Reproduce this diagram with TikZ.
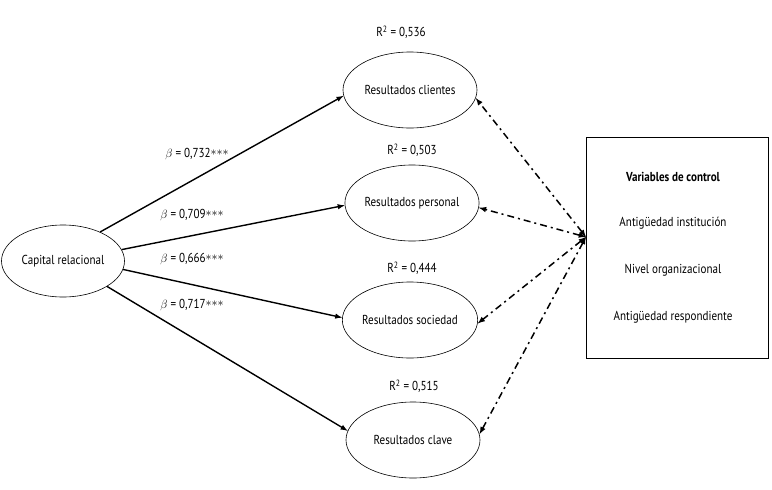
\documentclass[tikz,border=0pt]{standalone}
\usepackage{amsmath}
\usepackage{fontspec}
\setmainfont{PT Sans}[FakeStretch=0.85]
\usetikzlibrary{arrows}
\usetikzlibrary{shapes.geometric}

\newcommand{\sterren}{\raisebox{0.25ex}{${\ast}{\ast}{\ast}$}}

\begin{document}
\begin{tikzpicture}[x=1pt,y=-1pt,
	var/.style={ellipse,draw,line width=0.6pt,minimum width=134pt,minimum height=76pt,inner sep=0pt},
	lbl/.style={inner sep=0pt},
	pijl/.style={-latex,line width=1.4pt},
	ctrl/.style={latex-latex,line width=1.5pt,dash pattern=on 7pt off 4pt on 2pt off 4pt},
	font=\fontsize{13}{15}\selectfont]
		\useasboundingbox (0,0) rectangle (772,490);
		\node[var,minimum width=123pt,minimum height=72pt] (cap) at (63,261) {Capital relacional};
		\node[var] (cli) at (410,90) {Resultados clientes};
		\node[var] (per) at (412,203) {Resultados personal};
		\node[var] (soc) at (410,320) {Resultados sociedad};
		\node[var] (clv) at (413,440) {Resultados clave};
		\node[lbl] (r1) at (401,32) {R\textsuperscript{2} = 0,536};
		\node[lbl] (r2) at (412,150) {R\textsuperscript{2} = 0,503};
		\node[lbl] (r3) at (412,268) {R\textsuperscript{2} = 0,444};
		\node[lbl] (r4) at (414,386) {R\textsuperscript{2} = 0,515};
		\node[lbl] (b1) at (197,154) {$\beta$ = 0,732\sterren};
		\node[lbl] (b2) at (192,215) {$\beta$ = 0,709\sterren};
		\node[lbl] (b3) at (192,259) {$\beta$ = 0,666\sterren};
		\node[lbl] (b4) at (192,305) {$\beta$ = 0,717\sterren};
		\draw[pijl] (cap.38) -- (cli.185);
		\draw[pijl] (cap.11) -- (per.182);
		\draw[pijl] (cap.-8) -- (soc.178);
		\draw[pijl] (cap.-30) -- (clv.172);
		\node[draw,line width=0.6pt,minimum width=182pt,minimum height=221pt] (box) at (677,247.5) {};
		\node[lbl,font=\fontsize{13}{15}\selectfont\bfseries] (t0) at (673,177) {Variables de control};
		\node[lbl] (t1) at (673,223) {Antigüedad institución};
		\node[lbl] (t2) at (673,270) {Nivel organizacional};
		\node[lbl] (t3) at (673,317) {Antigüedad respondiente};
		\coordinate (c) at (586,237);
		\draw[ctrl] (c) -- (cli.-7);
		\draw[ctrl] (c) -- (per.-4);
		\draw[ctrl] (c) -- (soc.-3);
		\draw[ctrl] (c) -- (clv.5);
	\end{tikzpicture}
\end{document}
